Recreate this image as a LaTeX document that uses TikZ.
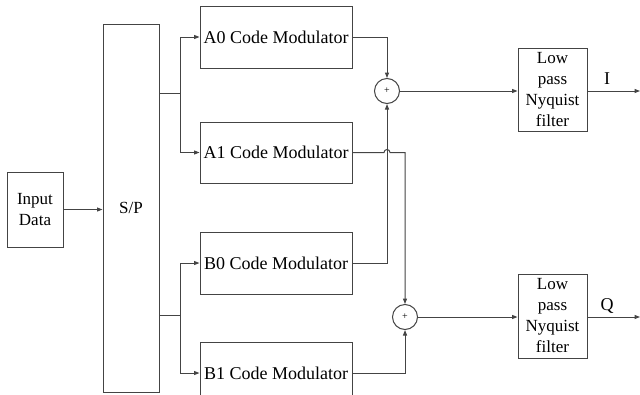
\documentclass[tikz,border=0pt]{standalone}
\usepackage{fontspec}
\setmainfont{Liberation Serif}
\usetikzlibrary{arrows.meta,calc}
\definecolor{wire}{HTML}{444444}
\tikzset{
  blk/.style={draw=wire, line width=1pt, minimum width=#1, inner sep=0pt, align=center,
              font=\fontsize{17}{21}\selectfont},
  modbox/.style={blk=152pt, minimum height=62pt, font=\fontsize{18}{21}\selectfont},
  summer/.style={draw=wire, line width=1pt, circle, minimum size=25pt, inner sep=0pt,
                 font=\fontsize{10}{10}\selectfont},
  wr/.style={draw=wire, line width=1pt},
  fl/.style={wr, -{Triangle[length=5.5pt,width=4pt]}},
  lbl/.style={font=\fontsize{18}{18}\selectfont}
}
\begin{document}
\begin{tikzpicture}[x=1pt,y=-1pt]
  \useasboundingbox (0,0) rectangle (640,394);
  \clip (0,0) rectangle (640,394);

  % blocks
  \node[blk=56pt, minimum height=75pt]  (in) at (35,209.5) {Input\\Data};
  \node[blk=56pt, minimum height=368pt] (sp) at (131,208) {S/P};
  \node[modbox] (a0) at (276,37)    {A0 Code Modulator};
  \node[modbox, minimum height=61pt] (a1) at (276,152.5) {A1 Code Modulator};
  \node[modbox] (b0) at (276,263)   {B0 Code Modulator};
  \node[modbox] (b1) at (276,373)   {B1 Code Modulator};
  \node[summer] (s1) at (387,91)  {+};
  \node[summer] (s2) at (405,317) {+};
  \node[blk=69pt, minimum height=83pt] (f1) at (552.5,89.5) {Low\\pass\\Nyquist\\filter};
  \node[blk=69pt, minimum height=84pt] (f2) at (552.5,316)  {Low\\pass\\Nyquist\\filter};

  % branch points and free ends
  \coordinate (ja) at (180,93);
  \coordinate (jb) at (180,315);
  \coordinate (oi) at (640,91);
  \coordinate (oq) at (640,317);

  % input to serial/parallel converter
  \draw[fl] (in.east) -- (in.east -| sp.west);

  % serial/parallel outputs to the modulators
  \draw[wr] (sp.east |- ja) -- (ja);
  \draw[fl] (ja) |- (a0.west);
  \draw[fl] (ja) |- (a1.west);
  \draw[wr] (sp.east |- jb) -- (jb);
  \draw[fl] (jb) |- (b0.west);
  \draw[fl] (jb) |- (b1.west);

  % modulators to the summers
  \draw[fl] (a0.east) -| (s1.north);
  \draw[fl] (b0.east) -| (s1.south);
  \draw[fl] (a1.east) -- ($(a1.east -| s1)+(-3,0)$)
        arc[start angle=180, end angle=0, radius=3pt]
        -- (a1.east -| s2) -- (s2.north);
  \draw[fl] (b1.east) -| (s2.south);

  % summers to the filters and outputs
  \draw[fl] (s1.east) -- (s1.east -| f1.west);
  \draw[fl] (s2.east) -- (s2.east -| f2.west);
  \draw[fl] (f1.east |- oi) -- (oi);
  \draw[fl] (f2.east |- oq) -- (oq);

  \node[lbl] (li) at (607,79)  {I};
  \node[lbl] (lq) at (607,306) {Q};
\end{tikzpicture}
\end{document}
